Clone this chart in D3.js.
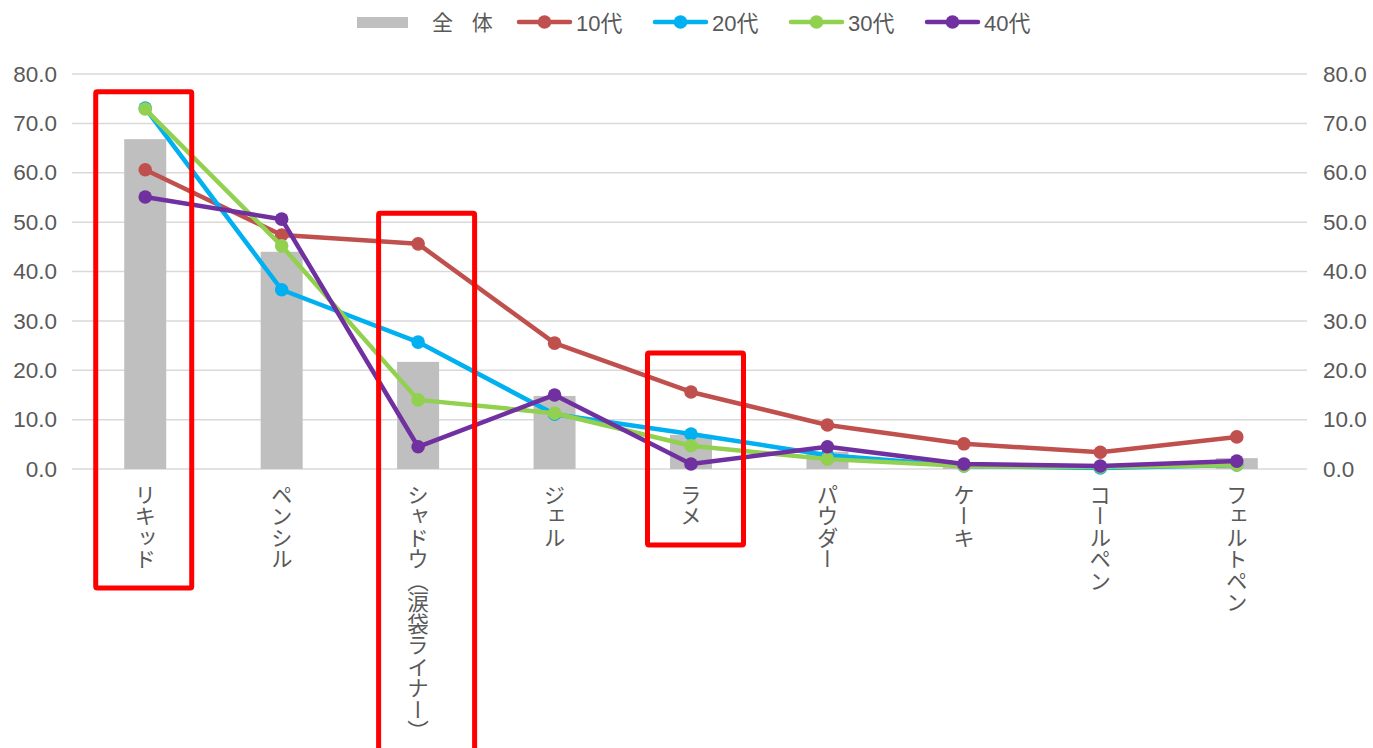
<!DOCTYPE html>
<html><head><meta charset="utf-8">
<script src="https://cdn.jsdelivr.net/npm/d3@7"></script>
<style>
html,body{margin:0;padding:0;background:#fff;}
svg{display:block;}
text{font-family:"Liberation Sans","Noto Sans CJK JP",sans-serif;fill:#595959;}
</style></head>
<body>
<svg id="chart" width="1373" height="748"></svg>
<script>
const categories = ["リキッド","ペンシル","シャドウ（涙袋ライナー）","ジェル","ラメ","パウダー","ケーキ","コールペン","フェルトペン"];
const total = [66.8,44.0,21.7,14.8,6.9,3.5,0.6,0.4,2.2];
const teens = [60.6,47.4,45.6,25.5,15.6,8.9,5.1,3.4,6.5];
const twenties = [73.1,36.3,25.7,11.1,7.1,2.8,0.6,0.2,0.8];
const thirties = [72.9,45.2,14.0,11.3,4.7,2.0,0.6,0.4,0.8];
const forties = [55.1,50.6,4.5,15.0,1.0,4.5,1.0,0.6,1.6];
const yTicks = [0,10,20,30,40,50,60,70,80];
const lineSeries = [
  {name:"10代", values:teens, color:"#C0504D"},
  {name:"20代", values:twenties, color:"#00B0F0"},
  {name:"30代", values:thirties, color:"#92D050"},
  {name:"40代", values:forties, color:"#7030A0"}
];
// annotation boxes: category index, top value, extent below axis (px), horizontal shift
const highlights = [
  {cat:0, topVal:76.4, below:119, dx:-1.5},
  {cat:2, topVal:51.8, below:290, dx:8.5},
  {cat:4, topVal:23.5, below:76, dx:4.5}
];

(function(){
const svg = d3.select("#chart");
const pL = 77, pR = 1305, pT = 74, pB = 469;
const x = d3.scaleBand().domain(categories).range([pL,pR]).paddingInner(0).paddingOuter(0);
const y = d3.scaleLinear().domain([0,80]).range([pB,pT]);
const cx = c => x(c) + x.bandwidth()/2;

// gridlines
svg.append("g").selectAll("line").data(yTicks).join("line")
  .attr("x1",pL-5).attr("x2",pR+2).attr("y1",d=>y(d)).attr("y2",d=>y(d))
  .attr("stroke","#D9D9D9").attr("stroke-width",1.5);

// axes labels
const fmt = d3.format(".1f");
const yl = d3.axisLeft(y).tickValues(yTicks).tickFormat(fmt).tickSize(0).tickPadding(0);
const gL = svg.append("g").attr("transform",`translate(${pL-20},0)`).call(yl);
gL.select(".domain").remove();
gL.selectAll("text").style("font-size","22.5px").style("font-family","'Liberation Sans',sans-serif").attr("fill","#595959");
const yr = d3.axisRight(y).tickValues(yTicks).tickFormat(fmt).tickSize(0).tickPadding(0);
const gR = svg.append("g").attr("transform",`translate(${pR+18},0)`).call(yr);
gR.select(".domain").remove();
gR.selectAll("text").style("font-size","22.5px").style("font-family","'Liberation Sans',sans-serif").attr("fill","#595959");

// bars
svg.append("g").selectAll("rect").data(categories).join("rect")
  .attr("x",d=>cx(d)-21).attr("width",42)
  .attr("y",(d,i)=>y(total[i])).attr("height",(d,i)=>y(0)-y(total[i]))
  .attr("fill","#BFBFBF");

// lines
const line = d3.line().x((d,i)=>cx(categories[i])).y(d=>y(d));
lineSeries.forEach(s=>{
  const g = svg.append("g");
  g.append("path").datum(s.values).attr("d",line).attr("fill","none")
    .attr("stroke",s.color).attr("stroke-width",4.5).attr("stroke-linejoin","round");
  g.selectAll("circle").data(s.values).join("circle")
    .attr("cx",(d,i)=>cx(categories[i])).attr("cy",d=>y(d)).attr("r",6.8).attr("fill",s.color);
});

// category labels (vertical)
svg.append("g").selectAll("text").data(categories).join("text")
  .attr("x",d=>cx(d)).attr("y",pB+15)
  .style("writing-mode","vertical-rl").style("font-size","21.5px")
  .style("font-family","'Noto Sans CJK JP',sans-serif")
  .attr("fill","#595959")
  .text(d=>d);

// highlight boxes
svg.append("g").selectAll("rect").data(highlights).join("rect")
  .attr("x",d=>cx(categories[d.cat])-48+d.dx).attr("width",96)
  .attr("y",d=>y(d.topVal)).attr("height",d=>y(0)+d.below-y(d.topVal))
  .attr("fill","none").attr("stroke","#FF0000").attr("stroke-width",5).attr("rx",1.5);

// legend
const leg = svg.append("g");
leg.append("rect").attr("x",357).attr("y",17).attr("width",51).attr("height",11).attr("fill","#BFBFBF");
leg.append("text").attr("x",432).attr("y",30).style("font-size","21px").style("letter-spacing","7px")
  .style("font-family","'Noto Sans CJK JP',sans-serif").attr("fill","#595959").text("全 体");
const legX = [519,655,791,927];
lineSeries.forEach((s,i)=>{
  const g = leg.append("g").attr("transform",`translate(${legX[i]},22)`);
  g.append("line").attr("x1",0).attr("x2",51).attr("stroke",s.color).attr("stroke-width",4.5).attr("stroke-linecap","round");
  g.append("circle").attr("cx",25.5).attr("r",6.8).attr("fill",s.color);
  g.append("text").attr("x",57).attr("y",8.5).style("font-size","22px").attr("fill","#595959").text(s.name);
});
})();
</script>
</body></html>
